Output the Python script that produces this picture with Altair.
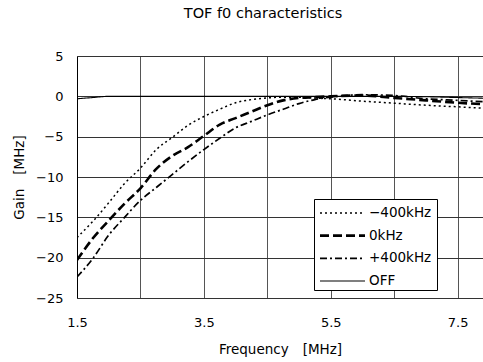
import altair as alt
import pandas as pd

series_names = ["−400kHz", "0kHz", "+400kHz", "OFF"]

freq = [1.5, 1.75, 2.0, 2.25, 2.5, 2.75, 3.0, 3.25, 3.5, 3.75, 4.0, 4.25, 4.5, 4.75,
        5.0, 5.25, 5.5, 6.0, 6.5, 7.0, 7.5, 8.0]

gain_m400 = [-17.5, -15.5, -13.2, -10.8, -8.9, -6.6, -5.1, -3.6, -2.5, -1.6, -0.8, -0.4,
             -0.2, -0.1, -0.1, -0.2, -0.3, -0.6, -0.85, -1.1, -1.3, -1.5]
gain_0 = [-20.3, -17.6, -15.4, -13.3, -11.4, -9.0, -7.4, -6.3, -4.9, -3.5, -2.7, -1.9,
          -1.1, -0.5, -0.2, -0.1, 0.0, 0.1, -0.2, -0.5, -0.8, -1.0]
gain_p400 = [-22.4, -20.1, -17.2, -15.0, -12.9, -11.3, -9.7, -8.1, -6.6, -5.2, -3.9, -3.1,
             -2.3, -1.6, -0.9, -0.4, -0.1, 0.2, 0.1, -0.3, -0.5, -0.7]
gain_off = [-0.3, -0.15, 0.0, 0.0, 0.0, 0.0, 0.0, 0.0, 0.0, 0.0, 0.0, 0.0,
            0.0, 0.0, 0.0, 0.0, 0.0, 0.0, 0.0, -0.05, -0.15, -0.25]

x_ticks = [1.5, 2.5, 3.5, 4.5, 5.5, 6.5, 7.5]
x_labels = [1.5, 3.5, 5.5, 7.5]
y_ticks = [-25, -20, -15, -10, -5, 0, 5]

dashes = [[2, 3], [9, 4], [7, 3, 2, 3], [1, 0]]
widths = [1.5, 2.6, 1.7, 1.1]

rows = []
for name, vals in zip(series_names, [gain_m400, gain_0, gain_p400, gain_off]):
    for f, g in zip(freq, vals):
        rows.append({"series": name, "freq": f, "gain": g})
df = pd.DataFrame(rows)
legend_df = pd.DataFrame({"series": series_names})

FONT = "DejaVu Sans"

label_expr = ("indexof([" + ",".join(str(v) for v in x_labels) +
              "], datum.value) >= 0 ? format(datum.value, '.1f') : ''")

dash_scale = alt.Scale(domain=series_names, range=dashes)
width_scale = alt.Scale(type="ordinal", domain=series_names, range=widths)

lines = alt.Chart(df).mark_line(clip=True, interpolate="monotone", color="black").encode(
    x=alt.X("freq:Q", scale=alt.Scale(domain=[1.5, 7.9], nice=False, zero=False),
            axis=alt.Axis(values=x_ticks, labelExpr=label_expr, title="Frequency\u3000[MHz]",
                          grid=True, gridColor="#555", ticks=False, domain=False,
                          labelPadding=18, titlePadding=13, labelFlush=False)),
    y=alt.Y("gain:Q", scale=alt.Scale(domain=[-25, 5], nice=False, zero=False),
            axis=alt.Axis(values=y_ticks, format="d", title="Gain\u3000[MHz]",
                          grid=True, gridColor="#333", ticks=False, domainColor="black",
                          labelPadding=14, titlePadding=9)),
    strokeDash=alt.StrokeDash("series:N", scale=dash_scale, legend=None),
    strokeWidth=alt.StrokeWidth("series:N", scale=width_scale, legend=None),
    detail="series:N",
)

box = alt.Chart(pd.DataFrame({"k": [0]})).mark_rect(
    fill="white", stroke="black", strokeWidth=1
).encode(x=alt.value(237.5), x2=alt.value(360.5), y=alt.value(143.5), y2=alt.value(234.5))

entry_y = alt.Y("series:N", scale=alt.Scale(type="point", domain=series_names,
                                            range=[157, 225], padding=0), axis=None)

leg_rules = alt.Chart(legend_df).mark_rule(color="black").encode(
    x=alt.value(243), x2=alt.value(288), y=entry_y,
    strokeDash=alt.StrokeDash("series:N", scale=dash_scale, legend=None),
    strokeWidth=alt.StrokeWidth("series:N", scale=width_scale, legend=None),
)

leg_text = alt.Chart(legend_df).mark_text(
    align="left", baseline="middle", font=FONT, fontSize=13.5, color="black"
).encode(x=alt.value(292), y=entry_y, text="series:N")

chart = alt.layer(lines, box, leg_rules, leg_text).resolve_scale(y="independent").properties(
    width=406, height=242,
    title=alt.TitleParams("TOF f0 characteristics", fontSize=14.5, fontWeight="normal",
                          font=FONT, offset=29, dx=-17, color="black"),
    autosize=alt.AutoSizeParams(type="none"),
    padding={"left": 77, "top": 56, "right": 0, "bottom": 64},
).configure_view(strokeWidth=0).configure_axis(
    labelFont=FONT, titleFont=FONT, labelFontSize=13, titleFontSize=13.5,
    labelColor="black", titleColor="black", titleFontWeight="normal", gridOpacity=1,
)

chart.save("out.html", embed_options={"renderer": "svg", "actions": False})
